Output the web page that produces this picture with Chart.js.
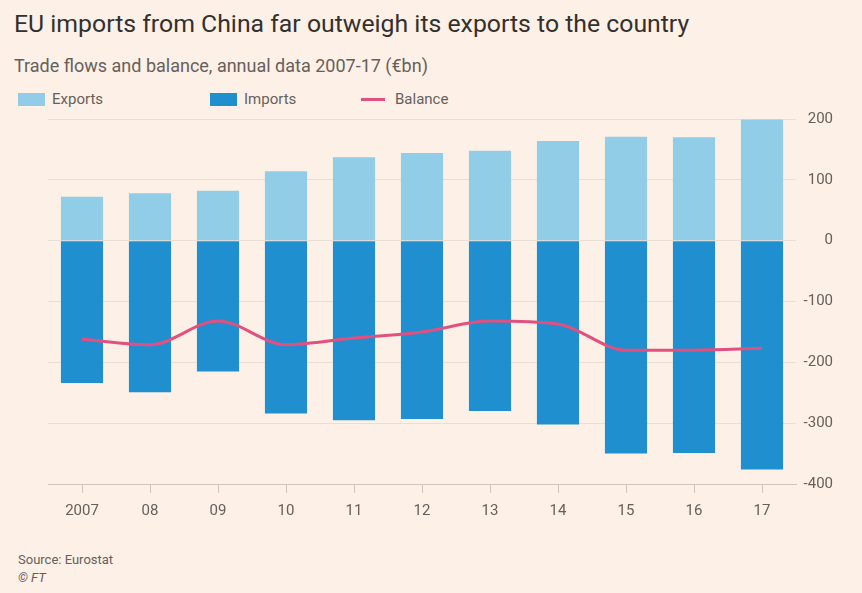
<!DOCTYPE html>
<html>
<head>
<meta charset="utf-8">
<script src="https://cdn.jsdelivr.net/npm/chart.js@4"></script>
<style>
  html, body { margin: 0; padding: 0; background: #fdf0e6; }
  body { width: 862px; height: 593px; position: relative; overflow: hidden; font-family: Roboto, "Open Sans", sans-serif; }
  #title { position: absolute; left: 14px; top: 9px; font-size: 24.8px; color: #33302e; white-space: nowrap; }
  #subtitle { position: absolute; left: 14px; top: 55px; font-size: 18px; color: #66605c; white-space: nowrap; }
  .legend { position: absolute; top: 90px; font-size: 15px; color: #66605c; white-space: nowrap; }
  .swatch { position: absolute; top: 3px; width: 27px; height: 13px; }
  .legend span.txt { position: absolute; left: 34px; top: 0; }
  #source { position: absolute; left: 18px; top: 551px; font-size: 13px; color: #66605c; line-height: 18px; }
  #wrap { position: absolute; left: 0; top: 0; width: 862px; height: 593px; }
</style>
</head>
<body>
<div id="title">EU imports from China far outweigh its exports to the country</div>
<div id="subtitle">Trade flows and balance, annual data 2007-17 (€bn)</div>
<div class="legend" style="left:18px"><div class="swatch" style="background:#92cde8"></div><span class="txt">Exports</span></div>
<div class="legend" style="left:210px"><div class="swatch" style="background:#1f8fd0"></div><span class="txt">Imports</span></div>
<div class="legend" style="left:361px"><div class="swatch" style="background:#e2507f;height:3px;top:8px;width:24px"></div><span class="txt">Balance</span></div>
<div id="source">Source: Eurostat<br><i>© FT</i></div>
<div id="wrap"><canvas id="chart" width="862" height="593"></canvas></div>
<script>
// Values (€bn)
const years = ['2007', '08', '09', '10', '11', '12', '13', '14', '15', '16', '17'];
const exportsEU = [72, 78, 82, 114, 137, 144, 148, 164, 171, 170, 199];
const importsEU = [-234, -249, -215, -284, -295, -293, -280, -302, -350, -349, -376];
const balance = [-162, -171, -132, -171, -160, -150, -132, -137, -180, -180, -177];
const yTicks = [200, 100, 0, -100, -200, -300, -400];

const ctx = document.getElementById('chart').getContext('2d');

new Chart(ctx, {
    type: 'bar',
    data: {
        labels: years,
        datasets: [
            {
                type: 'line',
                label: 'Balance',
                data: balance,
                stack: 'balance',
                borderColor: '#e2507f',
                borderWidth: 3,
                pointRadius: 0,
                cubicInterpolationMode: 'monotone',
                fill: false,
                order: 0
            },
            {
                label: 'Exports',
                data: exportsEU,
                stack: 'trade',
                backgroundColor: '#92cde8',
                barPercentage: 0.62,
                categoryPercentage: 1,
                order: 1
            },
            {
                label: 'Imports',
                data: importsEU,
                stack: 'trade',
                backgroundColor: '#1f8fd0',
                barPercentage: 0.62,
                categoryPercentage: 1,
                order: 1
            }
        ]
    },
    options: {
        responsive: false,
        animation: false,
        maintainAspectRatio: false,
        layout: {
            padding: { top: 119, left: 48, right: 29, bottom: 64 }
        },
        plugins: {
            legend: { display: false },
            tooltip: { enabled: false }
        },
        scales: {
            x: {
                stacked: true,
                offset: true,
                afterFit: function (scale) { scale.height = 45; },
                grid: {
                    offset: false,
                    drawOnChartArea: false,
                    drawTicks: true,
                    tickLength: 9,
                    color: '#cfc5bb'
                },
                border: { color: '#cfc5bb', width: 1 },
                ticks: {
                    color: '#66605c',
                    font: { family: 'Roboto', size: 15 },
                    padding: 9,
                    maxRotation: 0,
                    autoSkip: false
                }
            },
            y: {
                position: 'right',
                min: -400,
                max: 200,
                afterFit: function (scale) { scale.width = 37; },
                afterBuildTicks: function (scale) {
                    scale.ticks = yTicks.map(v => ({ value: v }));
                },
                grid: {
                    color: '#eadfd5',
                    drawTicks: false
                },
                border: { display: false },
                ticks: {
                    color: '#66605c',
                    font: { family: 'Roboto', size: 15 },
                    crossAlign: 'far',
                    padding: 0
                }
            }
        }
    }
});
</script>
</body>
</html>
